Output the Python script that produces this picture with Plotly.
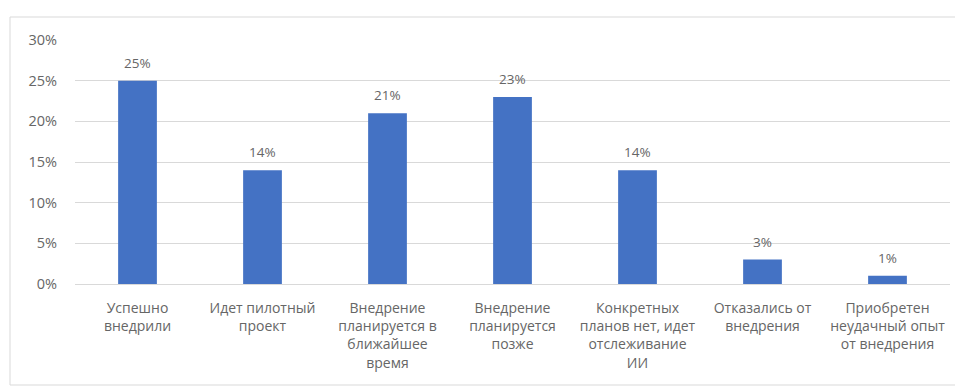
import plotly.graph_objects as go

categories = [
    "Успешно<br>внедрили",
    "Идет пилотный<br>проект",
    "Внедрение<br>планируется в<br>ближайшее<br>время",
    "Внедрение<br>планируется<br>позже",
    "Конкретных<br>планов нет, идет<br>отслеживание<br>ИИ",
    "Отказались от<br>внедрения",
    "Приобретен<br>неудачный опыт<br>от внедрения",
]
values = [25, 14, 21, 23, 14, 3, 1]
tick_vals = [0, 5, 10, 15, 20, 25, 30]
tick_text = ["0%", "5%", "10%", "15%", "20%", "25%", "30%"]

OFF = 8  # default page body margin
W, H = 963 - OFF, 386 - OFF
ml, mr, mt, mb = 75 - OFF, 13, 40 - OFF, 102
pw, ph = W - ml - mr, H - mt - mb

TXT = "#666666"

fig = go.Figure(go.Bar(
    x=categories, y=values,
    marker=dict(color="#4472C4", line=dict(width=0)),
    width=0.31,
))

for c, v in zip(categories, values):
    fig.add_annotation(x=c, y=v, text=f"{v}%", showarrow=False,
                       yanchor="bottom", yshift=7,
                       font=dict(family="Open Sans, sans-serif", size=13.5, color=TXT))

def px(x): return (x - OFF - ml) / pw
def py(y): return (H - mb - (y - OFF)) / ph

fig.add_shape(type="rect", xref="paper", yref="paper",
              x0=px(10), x1=px(962), y0=py(385), y1=py(17),
              line=dict(color="#d9d9d9", width=1), fillcolor="rgba(0,0,0,0)", layer="below")

fig.update_layout(
    width=W, height=H,
    margin=dict(l=ml, r=mr, t=mt, b=mb),
    paper_bgcolor="white", plot_bgcolor="white",
    showlegend=False,
    font=dict(family="Open Sans, sans-serif", color=TXT),
)
fig.update_xaxes(
    tickfont=dict(size=14, color=TXT),
    showgrid=False, showline=False, ticks="", tickangle=0,
    ticklabelstandoff=14,
)
fig.update_yaxes(
    range=[0, 30], tickvals=tick_vals, ticktext=tick_text,
    tickfont=dict(size=14.5, color=TXT),
    showgrid=True, gridcolor="#d9d9d9", gridwidth=1,
    zeroline=True, zerolinecolor="#d9d9d9", zerolinewidth=1,
    showline=False, ticks="", ticklabelstandoff=17,
)
fig.write_html("out.html")
